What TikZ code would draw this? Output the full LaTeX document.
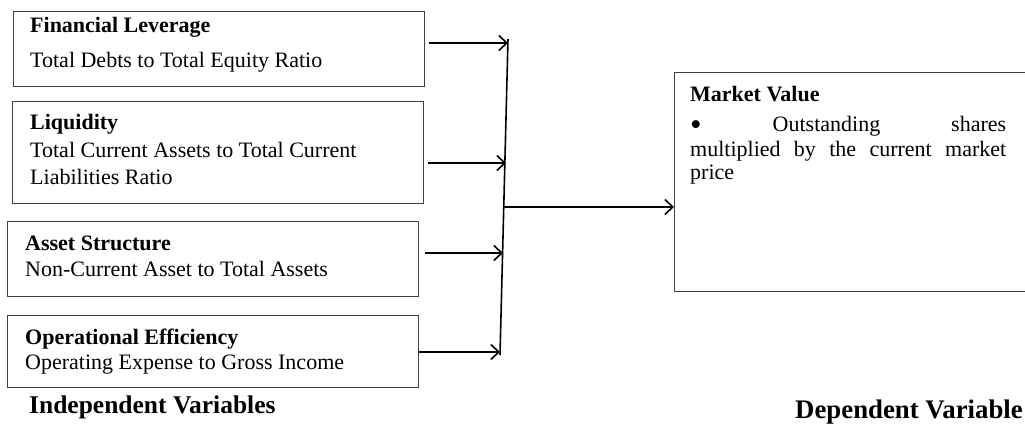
\documentclass[tikz,border=0pt]{standalone}
\usepackage{fontspec}
\setmainfont{Liberation Serif}
\usetikzlibrary{arrows.meta}
\begin{document}
\begin{tikzpicture}[x=1pt,y=1pt,
 box/.style={draw=black!75, line width=1pt, minimum width=411pt, anchor=south west, inner sep=0pt},
 ttl/.style={anchor=base west, inner sep=0pt, font=\fontsize{22}{26}\selectfont\bfseries},
 txt/.style={anchor=base west, inner sep=0pt, font=\fontsize{22}{26}\selectfont},
 lab/.style={anchor=base west, inner sep=0pt, font=\fontsize{25.5}{30}\selectfont\bfseries},
 conn/.style={line width=1.6pt},
 arr/.style={line width=1.6pt, -{Straight Barb[length=8pt,width=15pt,line width=1.6pt]}}
]
\useasboundingbox (0,0) rectangle (1025,423);
% boxes
\node[box, minimum height=75pt] (b1) at (13,336) {};
\node[box, minimum height=102pt] (b2) at (12,219) {};
\node[box, minimum height=75pt] (b3) at (7,126) {};
\node[box, minimum height=72pt] (b4) at (7,35) {};
\node[box, minimum width=420pt, minimum height=219pt] (mv) at (674,131) {};
% texts
\node[ttl] (t1) at (30,390) {Financial Leverage};
\node[txt] (d1) at (30,355) {Total Debts to Total Equity Ratio};
\node[ttl] (t2) at (30,293) {Liquidity};
\node[txt] (d2a) at (30,265) {Total Current Assets to Total Current};
\node[txt] (d2b) at (30,238) {Liabilities Ratio};
\node[ttl] (t3) at (25,172) {Asset Structure};
\node[txt] (d3) at (25,146) {Non-Current Asset to Total Assets};
\node[ttl] (t4) at (25,78) {Operational Efficiency};
\node[txt] (d4) at (25,53) {Operating Expense to Gross Income};
\node[ttl] (tm) at (690,321) {Market Value};
\node[txt] (m1) at (690,291) {\makebox[316pt][l]{\raisebox{-3.5pt}{\scalebox{1.5}{\textbullet}}\hfill Outstanding\hfill shares}};
\node[txt] (m2) at (690,266) {\makebox[316pt][l]{multiplied\hfill by\hfill the\hfill current\hfill market}};
\node[txt] (m3) at (690,243) {price};
\node[lab] (li) at (29,10) {Independent Variables};
\node[lab, font=\fontsize{26.8}{31}\selectfont\bfseries] (ld) at (795,5) {Dependent Variable};
% connectors
\coordinate (vt) at (508,384);
\coordinate (vb) at (500,68);
\coordinate (p1) at (508,380);
\coordinate (p2) at (506,260);
\coordinate (p3) at (503,170);
\coordinate (p4) at (500,71);
\coordinate (pm) at (503,216);
\draw[conn] (vt) -- (vb);
\draw[arr, shorten <=4pt] (b1.east |- p1) -- (p1);
\draw[arr, shorten <=4pt] (b2.east |- p2) -- (p2);
\draw[arr, shorten <=6pt] (b3.east |- p3) -- (p3);
\draw[arr] (b4.east |- p4) -- (p4);
\draw[arr] (pm) -- (mv.west |- pm);
\end{tikzpicture}
\end{document}
